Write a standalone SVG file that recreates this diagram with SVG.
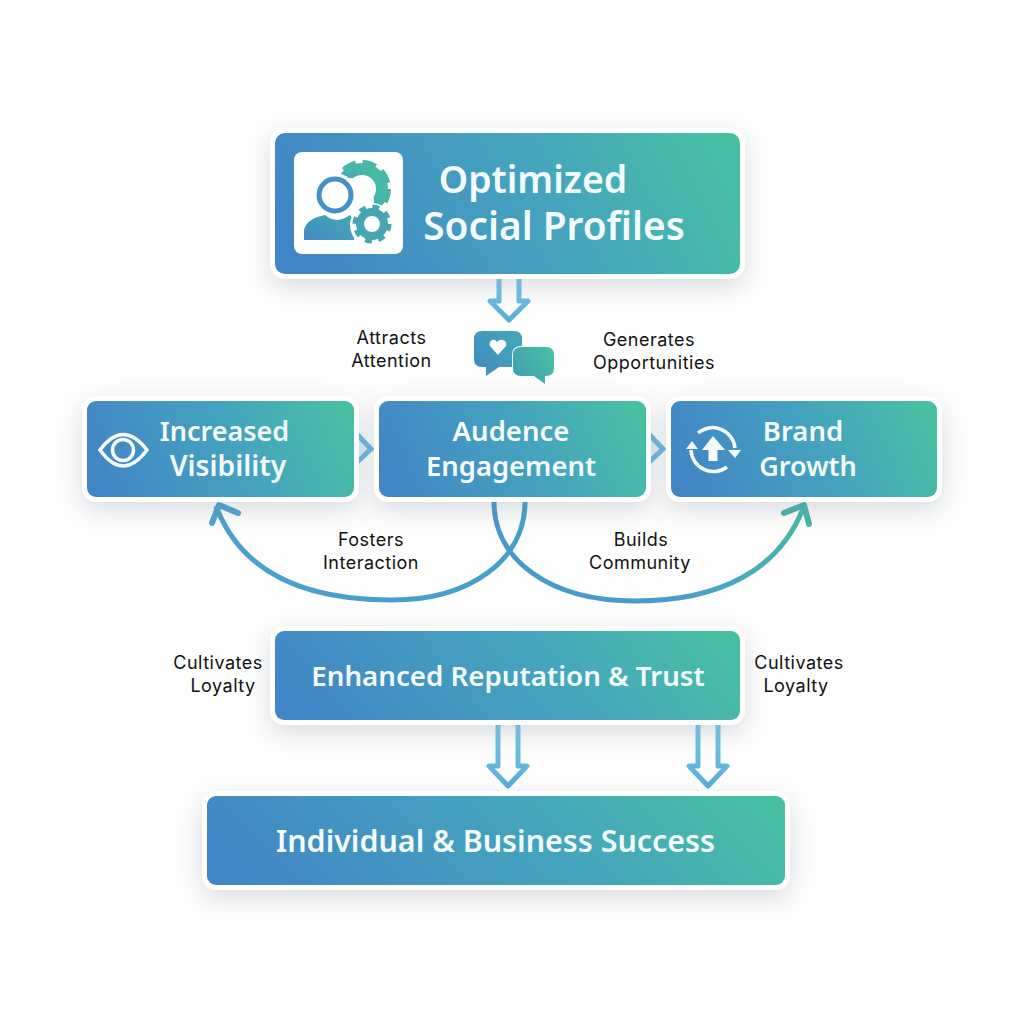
<svg xmlns="http://www.w3.org/2000/svg" width="1024" height="1024" viewBox="0 0 1024 1024">
<defs>
<linearGradient id="g" x1="0" y1="0.58" x2="1" y2="0.42"><stop offset="0" stop-color="#4285c6"/><stop offset="0.6" stop-color="#45a5bd"/><stop offset="1" stop-color="#48bfa4"/></linearGradient>
<linearGradient id="ic" x1="0" y1="1" x2="1" y2="0.3"><stop offset="0" stop-color="#4289c6"/><stop offset="1" stop-color="#45a5b5"/></linearGradient>
<linearGradient id="ic2" x1="0" y1="0.8" x2="1" y2="0.2"><stop offset="0" stop-color="#3f9fb2"/><stop offset="1" stop-color="#48bfa4"/></linearGradient>
<linearGradient id="c1" gradientUnits="userSpaceOnUse" x1="215" y1="510" x2="525" y2="510"><stop offset="0" stop-color="#4b9fd0"/><stop offset="1" stop-color="#45a0c8"/></linearGradient>
<linearGradient id="c2" gradientUnits="userSpaceOnUse" x1="495" y1="570" x2="805" y2="510"><stop offset="0" stop-color="#4a98cc"/><stop offset="0.5" stop-color="#4a9ccb"/><stop offset="1" stop-color="#46b8a8"/></linearGradient>
<linearGradient id="ar" gradientUnits="objectBoundingBox" x1="0" y1="0" x2="0" y2="1"><stop offset="0" stop-color="#7cc8ea"/><stop offset="1" stop-color="#58add9"/></linearGradient>
<filter id="sh" x="-15%" y="-30%" width="130%" height="180%"><feDropShadow dx="0" dy="8" stdDeviation="12" flood-color="#6b7480" flood-opacity="0.25"/></filter>
</defs>
<style>
.card{fill:#fff;filter:url(#sh)}
.fill{fill:url(#g)}
.t{font-family:"Noto Sans","Open Sans",sans-serif;font-weight:600;fill:#f4fbfc;text-anchor:middle}
.l{font-family:Inter,"Noto Sans",sans-serif;font-size:18px;letter-spacing:0.5px;fill:#111;text-anchor:middle}
.ic{fill:none;stroke:#f6fbfc;stroke-width:3.5}
.dbl{fill:none;stroke:url(#ar);stroke-width:5;stroke-linejoin:round;stroke-linecap:round}
.chev{fill:#e2eff8;stroke:#6bb7e0;stroke-width:5}
</style>
<rect width="1024" height="1024" fill="#fefefe"/>
<g id="connectors">
<path class="dbl" d="M499 279V301H490L509 320 528 301H519V279"/>
<path class="chev" d="M352 429L371 449 352 467"/>
<path class="chev" d="M644 429L663 449 644 467"/>
<path d="M525 502C525 560 470 600 392 600C300 600 240 570 216 506" fill="none" stroke="url(#c1)" stroke-width="5"/>
<path d="M212 523L219 505 238 513" fill="none" stroke="#4ea3d3" stroke-width="6" stroke-linecap="round" stroke-linejoin="round"/>
<path d="M494 502C494 560 550 601 635 601C720 601 780 570 804 506" fill="none" stroke="url(#c2)" stroke-width="5"/>
<path d="M784 513L804 505 809 524" fill="none" stroke="#46b5ae" stroke-width="6" stroke-linecap="round" stroke-linejoin="round"/>
<path class="dbl" d="M498 724V766H489L508 786 527 766H518V724"/>
<path class="dbl" d="M698 724V766H689L708 786 727 766H718V724"/>
</g>
<g id="node-profiles">
<rect class="card" x="270" y="128" width="475" height="151" rx="15"/>
<rect class="fill" x="275" y="133" width="465" height="141" rx="10"/>
<rect x="294" y="152" width="109" height="102" rx="8" fill="#fff"/>
<circle cx="362" cy="189" r="20" fill="none" stroke="url(#ic2)" stroke-width="12"/>
<circle cx="362" cy="189" r="25" fill="none" stroke="#48b6a8" stroke-width="8" stroke-dasharray="13 6.6"/>
<circle cx="351" cy="201" r="23" fill="#fff"/>
<circle cx="335" cy="195" r="22" fill="#fff"/>
<circle cx="335" cy="195" r="16" fill="none" stroke="#4590c6" stroke-width="5"/>
<path d="M304 240V232C304 222 315 217 325 215C333 222 342 221 350 215L355 222 354 240Z" fill="url(#ic)"/>
<circle cx="372" cy="225" r="22" fill="#fff"/>
<circle cx="372" cy="224" r="12" fill="none" stroke="#45a5b0" stroke-width="8"/>
<circle cx="372" cy="224" r="17" fill="none" stroke="#45a5b0" stroke-width="5" stroke-dasharray="6.7 6.65"/>
<text class="t" font-size="37.4" x="533" y="193">Optimized</text>
<text class="t" font-size="38.8" x="554" y="240">Social Profiles</text>
</g>
<g id="icon-chat">
<path d="M482 331H514Q522 331 522 339V367H499L486 376V367H482Q474 367 474 359V339Q474 331 482 331Z" fill="url(#ic)"/>
<path d="M497 342C494 337 488 341 490 346L498 355 506 346C508 341 501 337 497 342Z" fill="#fff"/>
<path d="M521 347H546Q554 347 554 355V368Q554 376 546 376H545V384L534 376H521Q513 376 513 368V355Q513 347 521 347Z" fill="url(#ic2)" stroke="#fff" stroke-width="2" paint-order="stroke"/>
</g>
<g id="node-visibility">
<rect class="card" x="82" y="396" width="277" height="106" rx="14"/>
<rect class="fill" x="87" y="401" width="267" height="96" rx="9"/>
<path class="ic" d="M100 450Q123 419 147 450Q123 482 100 450Z"/>
<circle class="ic" cx="123" cy="450" r="10.5"/>
<text class="t" font-size="27" x="224.500" y="441">Increased</text>
<text class="t" font-size="28.300" x="228" y="476">Visibility</text>
</g>
<g id="node-engagement">
<rect class="card" x="374" y="396" width="277" height="106" rx="14"/>
<rect class="fill" x="379" y="401" width="267" height="96" rx="9"/>
<text class="t" font-size="27.500" x="511" y="441">Audence</text>
<text class="t" font-size="27.400" x="511" y="476">Engagement</text>
</g>
<g id="node-growth">
<rect class="card" x="666" y="396" width="276" height="106" rx="14"/>
<rect class="fill" x="671" y="401" width="266" height="96" rx="9"/>
<path class="ic" d="M698 433A22.500 22.500 0 0 1 735 448"/>
<path class="ic" d="M727 467A22.500 22.500 0 0 1 691 450"/>
<path d="M686 449L692 441 698 449Z M728 450H741L735 458Z" fill="#f6fbfc"/>
<path d="M713 436L725 450H717.500V461H708.500V450H702Z" fill="#f6fbfc"/>
<text class="t" font-size="27.500" x="803" y="441">Brand</text>
<text class="t" font-size="27" x="808" y="476">Growth</text>
</g>
<g id="node-reputation">
<rect class="card" x="270" y="626" width="475" height="99" rx="14"/>
<rect class="fill" x="275" y="631" width="465" height="89" rx="9"/>
<text class="t" font-size="27.700" x="508" y="686">Enhanced Reputation &amp; Trust</text>
</g>
<g id="node-success">
<rect class="card" x="202" y="791" width="588" height="99" rx="14"/>
<rect class="fill" x="207" y="796" width="578" height="89" rx="9"/>
<text class="t" font-size="30.400" x="495.500" y="852">Individual &amp; Business Success</text>
</g>
<g id="labels">
<text class="l" x="391.500" y="344">Attracts</text><text class="l" x="391.500" y="367">Attention</text>
<text class="l" x="649" y="346">Generates</text><text class="l" x="654" y="369">Opportunities</text>
<text class="l" x="371" y="546">Fosters</text><text class="l" x="371" y="569">Interaction</text>
<text class="l" x="641" y="546">Builds</text><text class="l" x="640" y="569">Community</text>
<text class="l" x="218" y="669">Cultivates</text><text class="l" x="223" y="692">Loyalty</text>
<text class="l" x="799" y="669">Cultivates</text><text class="l" x="796" y="692">Loyalty</text>
</g>
</svg>
